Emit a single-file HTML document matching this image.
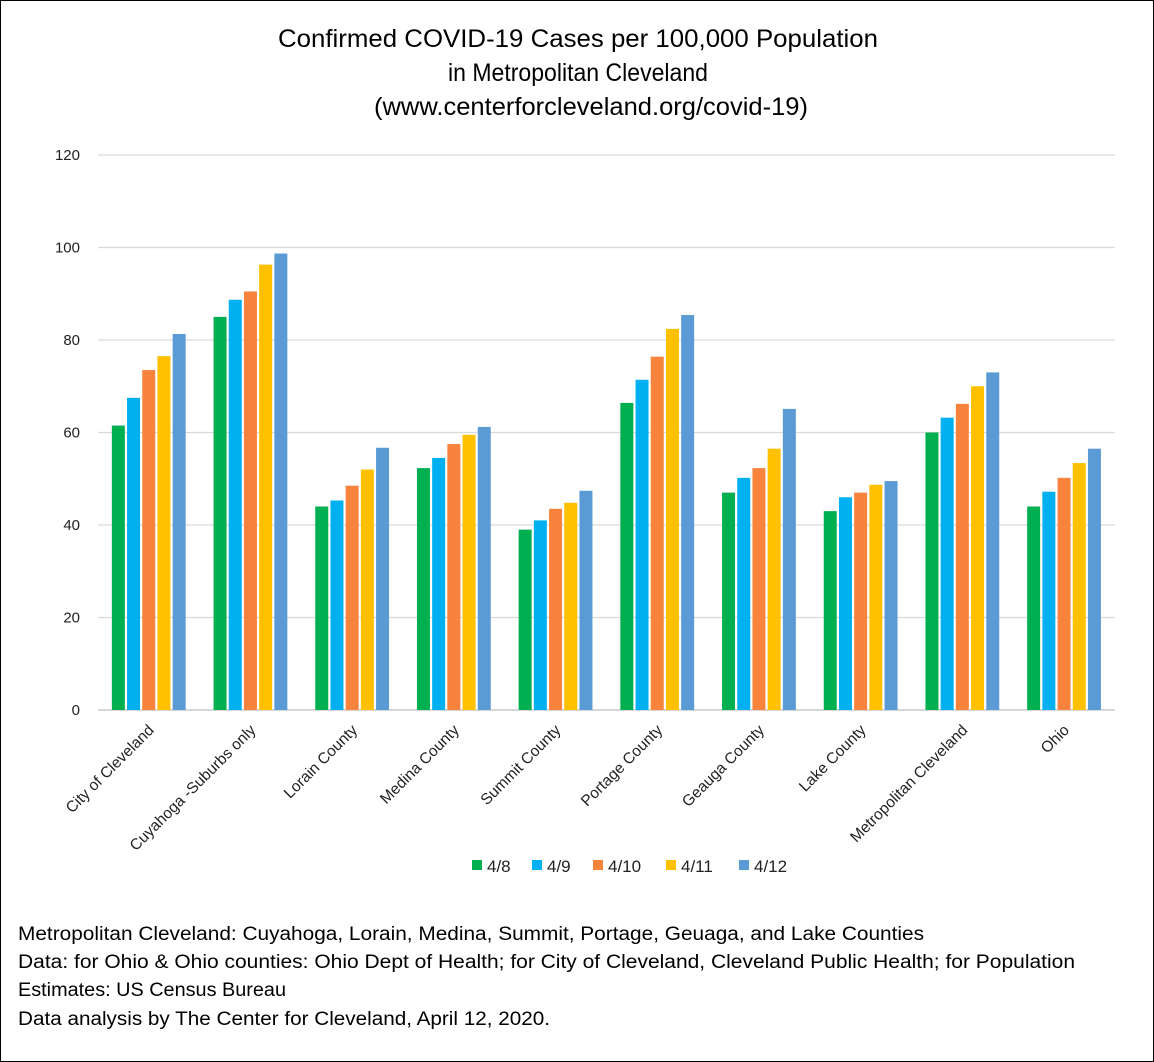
<!DOCTYPE html>
<html><head><meta charset="utf-8"><style>
html,body{margin:0;padding:0;background:#fff;}
body{width:1154px;height:1062px;overflow:hidden;font-family:"Liberation Sans",sans-serif;}
#frame{position:absolute;left:0;top:0;width:1152px;height:1060px;border:1px solid #000;}
</style></head><body>
<div id="frame"></div>
<svg id="chart" width="1154" height="1062" style="position:absolute;left:0;top:0">
<g font-size="25" text-anchor="middle" fill="#000">
<text x="578" y="47" textLength="600" lengthAdjust="spacingAndGlyphs">Confirmed COVID-19 Cases per 100,000 Population</text>
<text x="578" y="81" textLength="260" lengthAdjust="spacingAndGlyphs">in Metropolitan Cleveland</text>
<text x="591" y="115" textLength="434" lengthAdjust="spacingAndGlyphs">(www.centerforcleveland.org/covid-19)</text>
</g>
<g id="grid"></g><g id="bars"></g><g id="xlabels"></g><g id="legend"></g>
<g font-size="19" fill="#000">
<text x="18" y="940" textLength="906" lengthAdjust="spacingAndGlyphs">Metropolitan Cleveland:   Cuyahoga, Lorain, Medina, Summit, Portage, Geuaga, and Lake Counties</text>
<text x="18" y="968" textLength="1057" lengthAdjust="spacingAndGlyphs">Data: for Ohio &amp; Ohio counties: Ohio Dept of Health; for City of Cleveland, Cleveland Public Health; for Population</text>
<text x="18" y="996" textLength="268" lengthAdjust="spacingAndGlyphs">Estimates: US Census Bureau</text>
<text x="18" y="1025" textLength="532" lengthAdjust="spacingAndGlyphs">Data analysis by The Center for Cleveland, April 12, 2020.</text>
</g>
</svg>
<script>
const categories=["City of Cleveland","Cuyahoga -Suburbs only","Lorain County","Medina County","Summit County","Portage County","Geauga County","Lake County","Metropolitan Cleveland","Ohio"];
const seriesNames=["4/8","4/9","4/10","4/11","4/12"];
const s48=[61.5,85,44,52.3,39,66.4,47,43,60,44];
const s49=[67.5,88.7,45.3,54.5,41,71.4,50.2,46,63.2,47.2];
const s410=[73.5,90.5,48.5,57.5,43.5,76.4,52.3,47,66.2,50.2];
const s411=[76.5,96.3,52,59.5,44.8,82.4,56.5,48.7,70,53.4];
const s412=[81.3,98.7,56.7,61.2,47.4,85.4,65.1,49.5,73,56.5];
const yTicks=[0,20,40,60,80,100,120];
const series=[s48,s49,s410,s411,s412];
const colors=["#00b050","#00b0f0","#f8833c","#ffc000","#5b9bd5"];
const NS="http://www.w3.org/2000/svg";
const L=98,R=1115,T=155,B=710,ymax=120;
const y=v=>B-(v/ymax)*(B-T);
const band=(R-L)/categories.length;
const xc=i=>L+band*(i+0.5);
function mk(t,a,p){const e=document.createElementNS(NS,t);for(const k in a)e.setAttribute(k,a[k]);p.appendChild(e);return e;}
const grid=document.getElementById('grid');
yTicks.forEach(v=>{
 const ln=mk('line',{x1:L,x2:R,y1:y(v),y2:y(v),stroke:v===0?'#bfbfbf':'#d9d9d9','stroke-width':1.3},grid);
 
 
 const t=mk('text',{x:80,y:y(v)+5,'text-anchor':'end','font-size':15,fill:'#222'},grid);
 t.textContent=v;
 
 
});
const bars=document.getElementById('bars');
const bw=13,step=15.2;
series.forEach((s,si)=>s.forEach((v,i)=>{
 const x=xc(i)-2.5*step+si*step+1;
 const r=mk('rect',{x:x,y:y(v),width:bw,height:B-y(v),fill:colors[si]},bars);
 
 
}));
const xl=document.getElementById('xlabels');
categories.forEach((c,i)=>{
 const t=mk('text',{x:xc(i)+6,y:731,'text-anchor':'end','font-size':15.5,fill:'#222',transform:`rotate(-45 ${xc(i)+6} 731)`},xl);
 t.textContent=c;
 
 
});
const lg=document.getElementById('legend');
let lx=472;
const lw=[60,61,73,73,73];
seriesNames.forEach((n,i)=>{
 const g=mk('g',{},lg);
 
 
 mk('rect',{x:lx,y:860,width:10,height:10,fill:colors[i]},g);
 const t=mk('text',{x:lx+15,y:872,'font-size':17,fill:'#222'},g);
 t.textContent=n;
 lx+=lw[i];
});
</script>
</body></html>
